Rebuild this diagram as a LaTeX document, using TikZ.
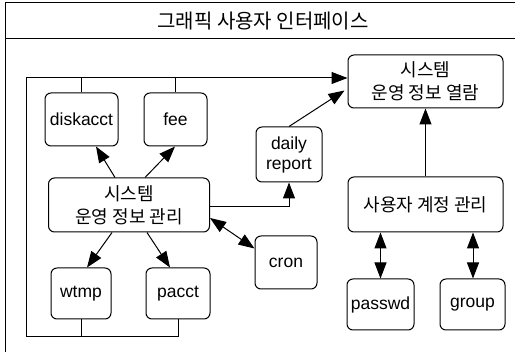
\documentclass[tikz,border=0pt]{standalone}
\usepackage{fontspec}
\setmainfont{Liberation Sans}
\newfontfamily\kr{Noto Sans CJK KR}
\usetikzlibrary{arrows.meta}
\begin{document}
\begin{tikzpicture}[x=1pt,y=-1pt,line width=1pt,
  box/.style={draw,rounded corners=6pt,inner sep=0pt,align=center,font=\fontsize{17.5}{20}\selectfont},
  kbox/.style={box,font=\kr\fontsize{18}{23}\selectfont},
  arr/.style={-{Triangle[length=16pt,width=12pt]}},
  darr/.style={{Triangle[length=16pt,width=12pt]}-{Triangle[length=16pt,width=12pt]}}]
\useasboundingbox (0,0) rectangle (515,352);
% outer frame
\draw (5,352) -- (5,3) -- (515,3);
\draw (5,39) -- (515,39);
\node[font=\kr\fontsize{20}{24}\selectfont] (title) at (263,21) {그래픽 사용자 인터페이스};
% nodes
\node[box,minimum width=73pt,minimum height=53pt] (disk) at (81.5,119.5) {diskacct};
\node[box,minimum width=63pt,minimum height=53pt] (fee) at (175.5,119.5) {fee};
\node[kbox,minimum width=161pt,minimum height=54pt] (mgmt) at (129,205) {시스템\\운영 정보 관리};
\node[box,minimum width=60pt,minimum height=51pt] (wtmp) at (81,293.5) {wtmp};
\node[box,minimum width=64pt,minimum height=51pt] (pacct) at (178,293.5) {pacct};
\node[box,minimum width=62pt,minimum height=53pt] (cron) at (286,262.5) {cron};
\node[box,minimum width=66pt,minimum height=55pt] (daily) at (289,154.5) {daily\\report};
\node[kbox,minimum width=155pt,minimum height=53pt] (view) at (425.5,81.5) {시스템\\운영 정보 열람};
\node[kbox,minimum width=155pt,minimum height=55pt] (acct) at (425.5,204.5) {사용자 계정 관리};
\node[box,minimum width=67pt,minimum height=51pt] (passwd) at (380.5,304.5) {passwd};
\node[box,minimum width=65pt,minimum height=51pt] (group) at (472.5,304.5) {group};
% loop
\coordinate (tl) at (26,78);
\coordinate (bl) at (26,337);
\draw[arr] (wtmp.south) -- (wtmp.south |- bl) -- (bl) -- (tl) -- (view.west |- tl);
\draw (pacct.south) -- (pacct.south |- bl) -- (wtmp.south |- bl);
\draw (disk.north) -- (disk.north |- tl);
\draw (fee.north) -- (fee.north |- tl);
% arrows
\draw[arr] ([xshift=-14pt]mgmt.north) -- ([xshift=14.5pt]disk.south);
\draw[arr] ([xshift=16pt]mgmt.north) -- ([xshift=-0.5pt]fee.south);
\draw[arr] ([xshift=-17pt]mgmt.south) -- ([xshift=6pt]wtmp.north);
\draw[arr] ([xshift=18pt]mgmt.south) -- ([xshift=-8pt]pacct.north);
\draw[darr] ([yshift=-13pt]mgmt.east) -- ([yshift=14pt]cron.west);
\draw[arr] ([yshift=-2pt]mgmt.east) -- ([yshift=-2pt]mgmt.east -| daily.south) -- (daily.south);
\draw[arr] (daily.north) -- ([xshift=-3pt,yshift=18pt]view.south west);
\draw[arr] (acct.north) -- (acct.north |- view.south);
\draw[darr] (acct.south -| passwd.north) -- (passwd.north);
\draw[darr] ([xshift=47.5pt]acct.south) -- ([xshift=47.5pt]acct.south |- group.north);
\end{tikzpicture}
\end{document}
